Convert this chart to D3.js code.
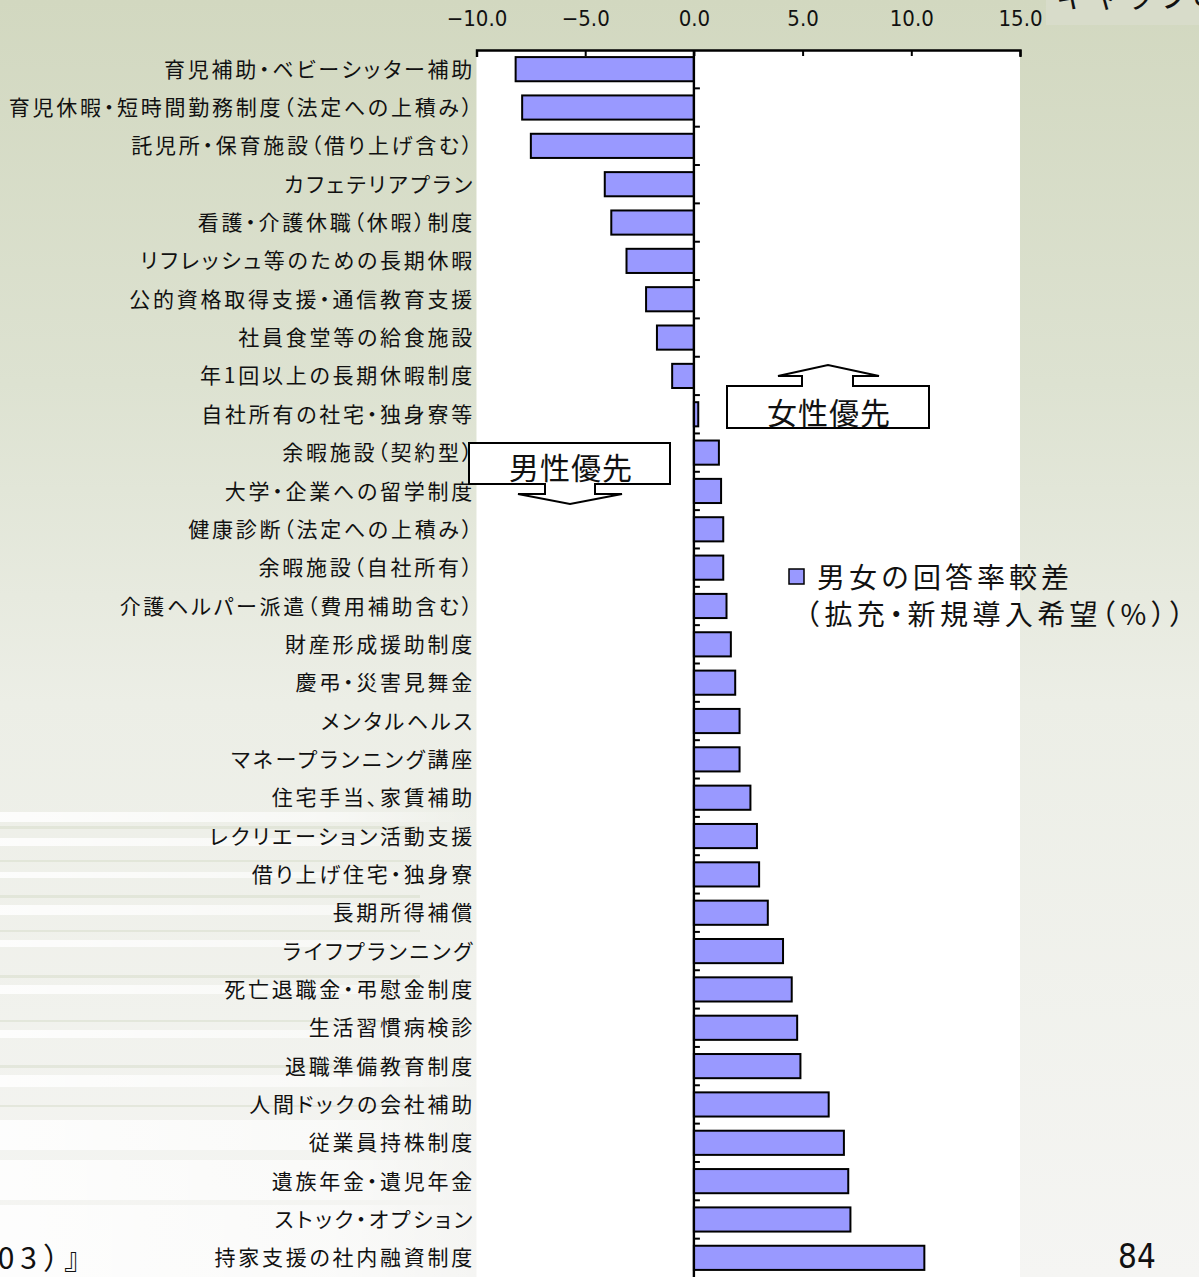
<!DOCTYPE html>
<html lang="ja">
<head>
<meta charset="utf-8">
<script src="https://cdn.jsdelivr.net/npm/d3@7"></script>
<style>
  html, body { margin: 0; padding: 0; overflow: hidden; }
  body { width: 1199px; height: 1277px; }
  .cat { font-family: "Noto Sans CJK JP", sans-serif; font-size: 21px; fill: #111; letter-spacing: 2.75px; font-feature-settings: "palt" 1; }
  .tick text { font-family: "Liberation Sans Narrow", "DejaVu Sans Condensed", "Liberation Sans", sans-serif; font-stretch: condensed; font-size: 22px; fill: #111; }
  .jp { font-family: "Noto Sans CJK JP", sans-serif; fill: #111; }
  .halt { font-feature-settings: "halt" 1; }
</style>
</head>
<body>
<svg id="chart" width="1199" height="1277"></svg>
<script>
// Benefit programmes: gap between male and female response rates (expansion / new introduction wanted, %)
const categories = [
  "育児補助・ベビーシッター補助",
  "育児休暇・短時間勤務制度（法定への上積み）",
  "託児所・保育施設（借り上げ含む）",
  "カフェテリアプラン",
  "看護・介護休職（休暇）制度",
  "リフレッシュ等のための長期休暇",
  "公的資格取得支援・通信教育支援",
  "社員食堂等の給食施設",
  "年1回以上の長期休暇制度",
  "自社所有の社宅・独身寮等",
  "余暇施設（契約型）",
  "大学・企業への留学制度",
  "健康診断（法定への上積み）",
  "余暇施設（自社所有）",
  "介護ヘルパー派遣（費用補助含む）",
  "財産形成援助制度",
  "慶弔・災害見舞金",
  "メンタルヘルス",
  "マネープランニング講座",
  "住宅手当、家賃補助",
  "レクリエーション活動支援",
  "借り上げ住宅・独身寮",
  "長期所得補償",
  "ライフプランニング",
  "死亡退職金・弔慰金制度",
  "生活習慣病検診",
  "退職準備教育制度",
  "人間ドックの会社補助",
  "従業員持株制度",
  "遺族年金・遺児年金",
  "ストック・オプション",
  "持家支援の社内融資制度"
];
const gapValues = [
  -8.2, -7.9, -7.5, -4.1, -3.8, -3.1, -2.2, -1.7, -1.0, 0.2,
  1.15, 1.25, 1.35, 1.35, 1.5, 1.7, 1.9, 2.1, 2.1, 2.6,
  2.9, 3.0, 3.4, 4.1, 4.5, 4.75, 4.9, 6.2, 6.9, 7.1,
  7.2, 10.6
];
const xTickValues = [-10, -5, 0, 5, 10, 15];
const seriesName = ["男女の回答率較差", "（拡充・新規導入希望（%））"];

const W = 1199, H = 1277;
const svg = d3.select("#chart");
const defs = svg.append("defs");

// page background: pale sage fading to near white
const bg = defs.append("linearGradient").attr("id", "bg").attr("x1", 0).attr("y1", 0).attr("x2", 0).attr("y2", 1);
bg.append("stop").attr("offset", "0%").attr("stop-color", "#d2d8c0");
bg.append("stop").attr("offset", "30%").attr("stop-color", "#dde2d1");
bg.append("stop").attr("offset", "55%").attr("stop-color", "#eceee6");
bg.append("stop").attr("offset", "100%").attr("stop-color", "#f5f5f3");
svg.append("rect").attr("width", W).attr("height", H).attr("fill", "url(#bg)");

// soft horizontal streaks in the lower left
const streak = defs.append("linearGradient").attr("id", "streak").attr("x1", 0).attr("y1", 0).attr("x2", 1).attr("y2", 0);
streak.append("stop").attr("offset", "0%").attr("stop-color", "#ffffff").attr("stop-opacity", 0.85);
streak.append("stop").attr("offset", "70%").attr("stop-color", "#ffffff").attr("stop-opacity", 0.55);
streak.append("stop").attr("offset", "100%").attr("stop-color", "#ffffff").attr("stop-opacity", 0);
const streakRows = [[812, 10], [838, 8], [872, 6], [905, 10], [940, 7], [985, 9], [1030, 8], [1075, 12], [1120, 30], [1160, 40], [1205, 72]];
svg.append("g").selectAll("rect").data(streakRows).join("rect")
  .attr("x", 0).attr("y", d => d[0]).attr("width", 480).attr("height", d => d[1])
  .attr("fill", "url(#streak)");
const shadeRows = [[826, 3], [860, 2], [895, 3], [930, 2], [975, 3], [1020, 2], [1065, 3], [1105, 2]];
svg.append("g").selectAll("rect").data(shadeRows).join("rect")
  .attr("x", 0).attr("y", d => d[0]).attr("width", 420).attr("height", d => d[1])
  .attr("fill", "#d3d9c5").attr("opacity", 0.45);

// scales
const x = d3.scaleLinear().domain([-10, 15]).range([476.5, 1020]);
const y = d3.scaleBand().domain(categories).range([50, 1277]).paddingInner(0.37).paddingOuter(0.185);

// plot area
svg.append("rect")
  .attr("x", x(-10)).attr("y", 50)
  .attr("width", x(15) - x(-10)).attr("height", H - 50)
  .attr("fill", "#ffffff");

// bars
const rows = categories.map((c, i) => ({ c, v: gapValues[i] }));
svg.append("g").selectAll("rect").data(rows).join("rect")
  .attr("x", d => x(Math.min(0, d.v)))
  .attr("y", d => y(d.c))
  .attr("width", d => Math.abs(x(d.v) - x(0)))
  .attr("height", y.bandwidth())
  .attr("fill", "#9999ff")
  .attr("stroke", "#000")
  .attr("stroke-width", 2);

// top value axis, ticks pointing into the plot
const xAxis = d3.axisTop(x)
  .tickValues(xTickValues)
  .tickFormat(d => d3.format(".1f")(d).replace("-", "\u2212"))
  .tickSizeInner(-6)
  .tickSizeOuter(-7)
  .tickPadding(24);
const gx = svg.append("g").attr("transform", "translate(0,50)").call(xAxis);
gx.select(".domain").attr("stroke", "#000").attr("stroke-width", 2.4);
gx.selectAll(".tick line").attr("stroke", "#000").attr("stroke-width", 2);

// category axis along zero, with ticks at band boundaries
const step = y.step();
const gapTop = (step - y.bandwidth()) / 2;
const gy = svg.append("g");
gy.append("line")
  .attr("x1", x(0)).attr("x2", x(0)).attr("y1", 50).attr("y2", H)
  .attr("stroke", "#000").attr("stroke-width", 2.4);
gy.selectAll("line.t").data(categories.slice(1)).join("line")
  .attr("class", "t")
  .attr("x1", x(0)).attr("x2", x(0) + 6)
  .attr("y1", d => y(d) - gapTop).attr("y2", d => y(d) - gapTop)
  .attr("stroke", "#000").attr("stroke-width", 2);

// category labels
svg.append("g").selectAll("text").data(categories).join("text")
  .attr("class", "cat")
  .attr("x", 475)
  .attr("y", d => y(d) + y.bandwidth() / 2)
  .attr("dy", "0.36em")
  .attr("text-anchor", "end")
  .text(d => d);

// callouts
const callouts = svg.append("g");
callouts.append("path")
  .attr("d", "M727,386 H802 V376 H778 L828,365 L879,376 H853 V386 H929 V428 H727 Z")
  .attr("fill", "#fff").attr("stroke", "#000").attr("stroke-width", 2);
callouts.append("text").attr("class", "jp")
  .attr("x", 829).attr("y", 424).attr("text-anchor", "middle")
  .attr("font-size", 30).attr("letter-spacing", 1).text("女性優先");
callouts.append("path")
  .attr("d", "M469,443 H670 V484 H595 V494 H622 L570,504 L518,494 H545 V484 H469 Z")
  .attr("fill", "#fff").attr("stroke", "#000").attr("stroke-width", 2);
callouts.append("text").attr("class", "jp")
  .attr("x", 571).attr("y", 479).attr("text-anchor", "middle")
  .attr("font-size", 30).attr("letter-spacing", 1).text("男性優先");

// legend
const lg = svg.append("g");
lg.append("rect").attr("x", 789).attr("y", 569).attr("width", 15).attr("height", 15)
  .attr("fill", "#9999ff").attr("stroke", "#000").attr("stroke-width", 1.5);
lg.append("text").attr("class", "jp").attr("x", 817).attr("y", 588)
  .attr("font-size", 28).attr("letter-spacing", 4).text(seriesName[0]);
lg.append("text").attr("class", "jp halt").attr("x", 806).attr("y", 625)
  .attr("font-size", 28).attr("letter-spacing", 4.4).text(seriesName[1]);

// heading fragment at the top right
svg.append("rect").attr("x", 1046).attr("y", 0).attr("width", 153).attr("height", 25)
  .attr("fill", "#d8dcca");
svg.append("text").attr("class", "jp").attr("x", 1056).attr("y", 7)
  .attr("font-size", 32).attr("letter-spacing", 2).text("ギャップの分析");

// source note and page number
svg.append("text").attr("class", "jp").attr("x", 100).attr("y", 1269)
  .attr("text-anchor", "end").attr("font-size", 30).attr("letter-spacing", 6).text("（2003）』");
svg.append("text")
  .attr("x", 1137).attr("y", 1268).attr("text-anchor", "middle")
  .attr("font-family", "'Liberation Sans Narrow', 'DejaVu Sans Condensed', sans-serif")
  .attr("font-stretch", "condensed")
  .attr("font-size", 33).attr("fill", "#111").text("84");
</script>
</body>
</html>
